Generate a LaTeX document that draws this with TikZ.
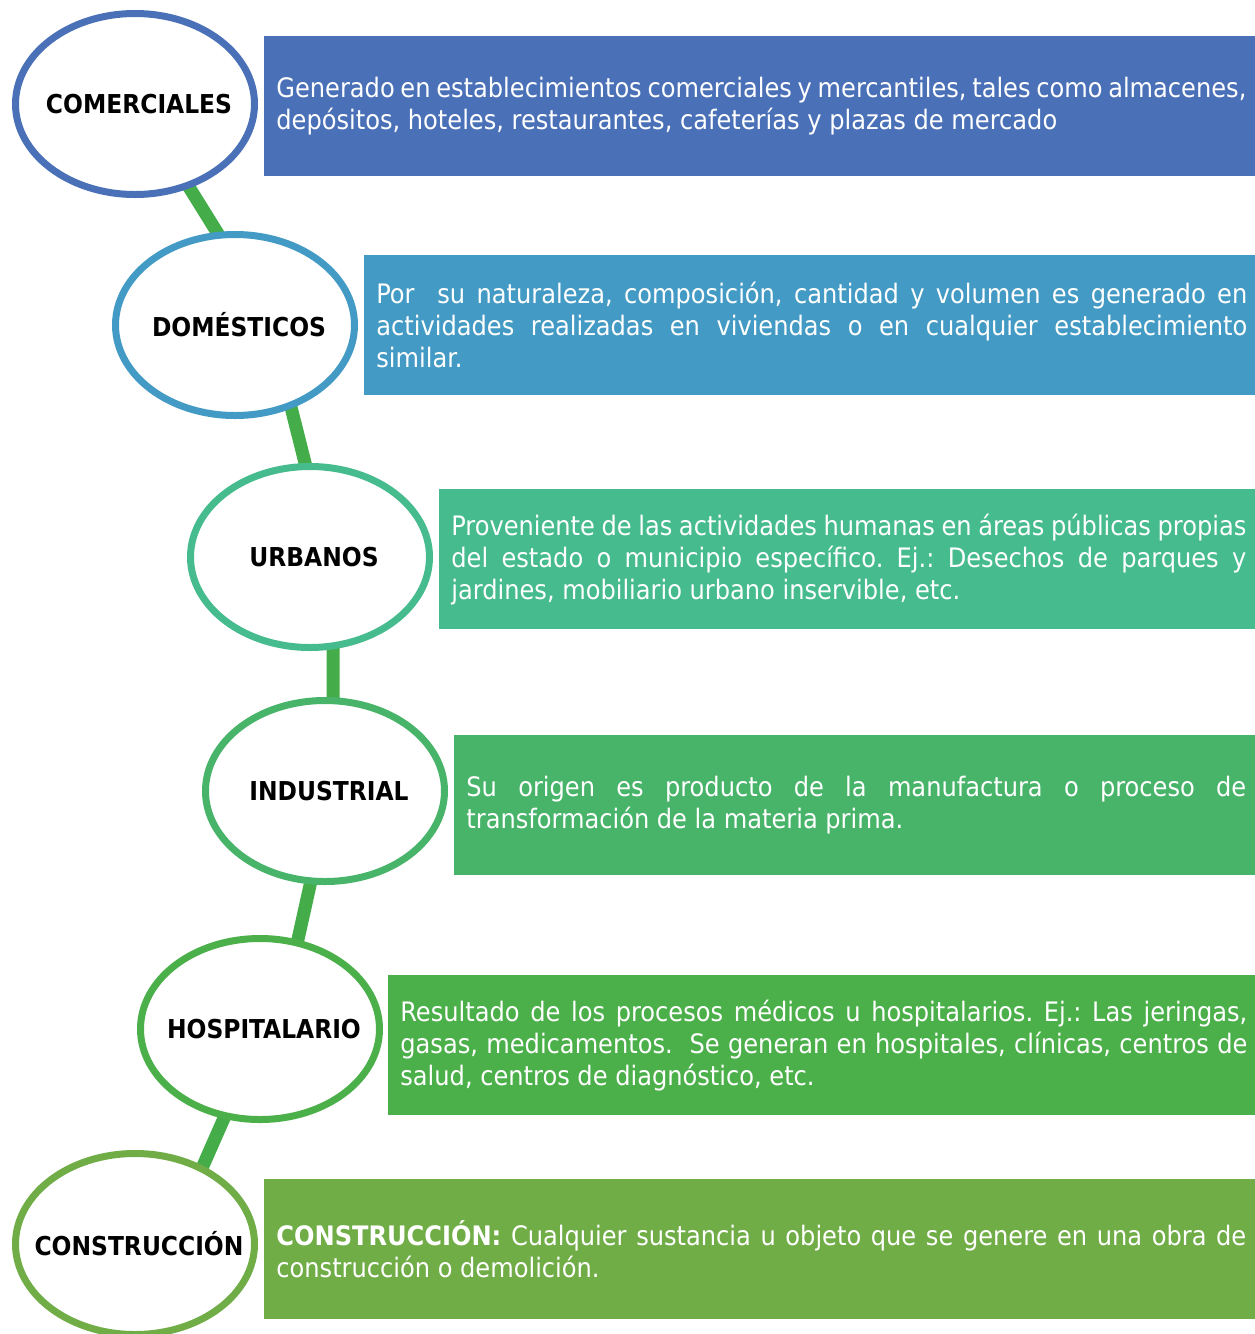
\documentclass[tikz,border=0pt]{standalone}
\usepackage{fontspec}
\setmainfont{DejaVu Sans Condensed}
\usetikzlibrary{shapes.geometric,backgrounds}

\definecolor{comcol}{HTML}{4A71B7}
\definecolor{domcol}{HTML}{439AC4}
\definecolor{urbcol}{HTML}{45BB8E}
\definecolor{indcol}{HTML}{48B46A}
\definecolor{hospcol}{HTML}{4CB04A}
\definecolor{concol}{HTML}{70AD47}
\definecolor{enlacecol}{HTML}{44AC48}

\begin{document}
\frenchspacing
\begin{tikzpicture}[x=0.5pt,y=-0.5pt]

	\tikzstyle{tipo}=[draw,ellipse,fill=white,line width=3.5pt,minimum width=119.5pt,minimum height=90.5pt,inner sep=0pt]
	\tikzstyle{every label}=[font=\fontsize{13}{15}\selectfont\bfseries,xshift=2pt]
	\tikzstyle{desc}=[rectangle,anchor=north west,text=white,minimum height=70pt,inner xsep=6pt,inner ysep=0pt,align=justify,font=\fontsize{13.4}{16}\selectfont]
	\tikzstyle{enlace}=[line width=6.5pt,enlacecol,shorten <=-3pt,shorten >=-3pt]

	\useasboundingbox (0,0) rectangle (1254,1334);

	\node[tipo,draw=comcol,label={center:COMERCIALES}] (com) at (135,104) {};
	\node[tipo,draw=domcol,label={center:DOMÉSTICOS}] (dom) at (235,325) {};
	\node[tipo,draw=urbcol,label={center:URBANOS}] (urb) at (310,557) {};
	\node[tipo,draw=indcol,label={center:INDUSTRIAL}] (ind) at (325,791) {};
	\node[tipo,draw=hospcol,label={center:HOSPITALARIO}] (hosp) at (260,1029) {};
	\node[tipo,draw=concol,label={center:CONSTRUCCIÓN}] (con) at (135,1244) {};

	\begin{scope}[on background layer]
		\draw[enlace] (com.-57) -- (dom.101);
		\draw[enlace] (dom.-56) -- (urb.93);
		\draw[enlace] (urb.-76) -- (ind.85);
		\draw[enlace] (ind.-99) -- (hosp.67);
		\draw[enlace] (hosp.-112) -- (con.49);
	\end{scope}

	\node[desc,fill=comcol,text width=485pt] (tcom) at (264,36) {Generado en establecimientos comerciales y mercantiles, tales como almacenes,\linebreak depósitos, hoteles, restaurantes, cafeterías y plazas de mercado};

	\node[desc,fill=domcol,text width=435.5pt] (tdom) at (364,255) {Por\ \ su naturaleza, composición, cantidad y volumen es generado en\linebreak actividades realizadas en viviendas o en cualquier establecimiento\linebreak similar.};

	\node[desc,fill=urbcol,text width=397.5pt] (turb) at (439,489) {Proveniente de las actividades humanas en áreas públicas propias\linebreak del estado o municipio específico. Ej.: Desechos de parques y\linebreak jardines, mobiliario urbano inservible, etc.};

	\node[desc,fill=indcol,text width=390pt] (tind) at (454,735) {Su origen es producto de la manufactura o proceso de\linebreak transformación de la materia prima.};

	\node[desc,fill=hospcol,text width=423.5pt] (thosp) at (388,975) {Resultado de los procesos médicos u hospitalarios. Ej.: Las jeringas,\linebreak gasas, medicamentos.\ \ Se generan en hospitales, clínicas, centros de\linebreak salud, centros de diagnóstico, etc.};

	\node[desc,fill=concol,text width=485pt] (tcon) at (264,1179) {\textbf{CONSTRUCCIÓN:} Cualquier sustancia u objeto que se genere en una obra de\linebreak construcción o demolición.};

\end{tikzpicture}
\end{document}
